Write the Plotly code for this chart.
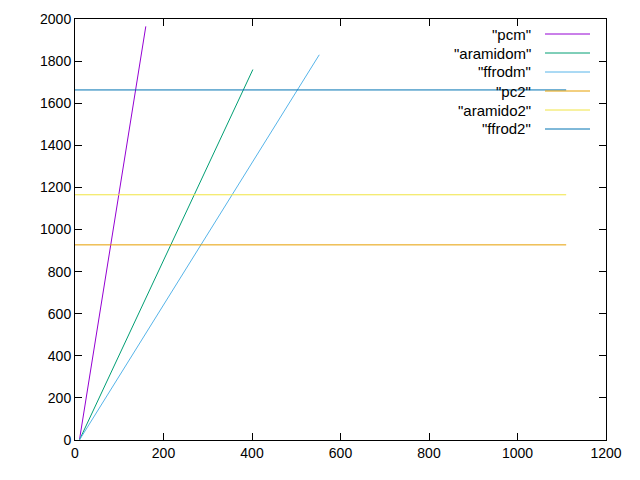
import plotly.graph_objects as go

names = ['"pcm"', '"aramidom"', '"ffrodm"', '"pc2"', '"aramido2"', '"ffrod2"']
colors = ["#9400d3", "#009e73", "#56b4e9", "#e69f00", "#f0e442", "#0072b2"]

pcm_x = [10, 160]
pcm_y = [0, 1965]
aramidom_x = [10, 402]
aramidom_y = [0, 1760]
ffrodm_x = [10, 552]
ffrodm_y = [0, 1830]
pc2_x = [0, 1110]
pc2_y = [927, 927]
aramido2_x = [0, 1110]
aramido2_y = [1165, 1165]
ffrod2_x = [0, 1110]
ffrod2_y = [1663, 1663]

series = [(pcm_x, pcm_y), (aramidom_x, aramidom_y), (ffrodm_x, ffrodm_y),
          (pc2_x, pc2_y), (aramido2_x, aramido2_y), (ffrod2_x, ffrod2_y)]

# page body has an 8px offset; compensate so the plot area lands at 75..606 x 19..440
OFF = 8
W, H = 640 - OFF, 480 - OFF
L, R, T, B = 75 - OFF, 34, 19 - OFF, 40
pw, ph = W - L - R, H - T - B

fig = go.Figure()
for (x, y), n, c in zip(series, names, colors):
    fig.add_trace(go.Scatter(x=x, y=y, mode="lines", name=n,
                             line=dict(color=c, width=1), showlegend=False))

font = dict(family="Liberation Sans, Arial, sans-serif", size=14, color="black")
lfont = dict(family="Liberation Sans, Arial, sans-serif", size=15, color="black")
shapes = []
annotations = []
for i, (n, c) in enumerate(zip(names, colors)):
    py = 34 + i * 19  # target page pixel
    yp = (440 - py) / ph
    annotations.append(dict(x=(533 - 75) / pw, y=yp, xref="paper", yref="paper",
                            text=n, showarrow=False, xanchor="right",
                            yanchor="middle", font=lfont))
    shapes.append(dict(type="line", xref="paper", yref="paper",
                       x0=(545 - 75) / pw, x1=(590 - 75) / pw, y0=yp, y1=yp,
                       line=dict(color=c, width=1)))

axis_common = dict(showgrid=False, zeroline=False, ticks="inside", ticklen=7,
                   tickwidth=1, tickcolor="black", mirror="ticks",
                   showline=True, linecolor="black", linewidth=1,
                   tickfont=font)

fig.update_layout(
    width=W, height=H,
    margin=dict(l=L, r=R, t=T, b=B, autoexpand=False),
    plot_bgcolor="white", paper_bgcolor="white",
    xaxis=dict(range=[0, 1200], dtick=200, **axis_common),
    yaxis=dict(range=[0, 2000], dtick=200, **axis_common),
    shapes=shapes, annotations=annotations,
)

fig.write_html("out.html")
